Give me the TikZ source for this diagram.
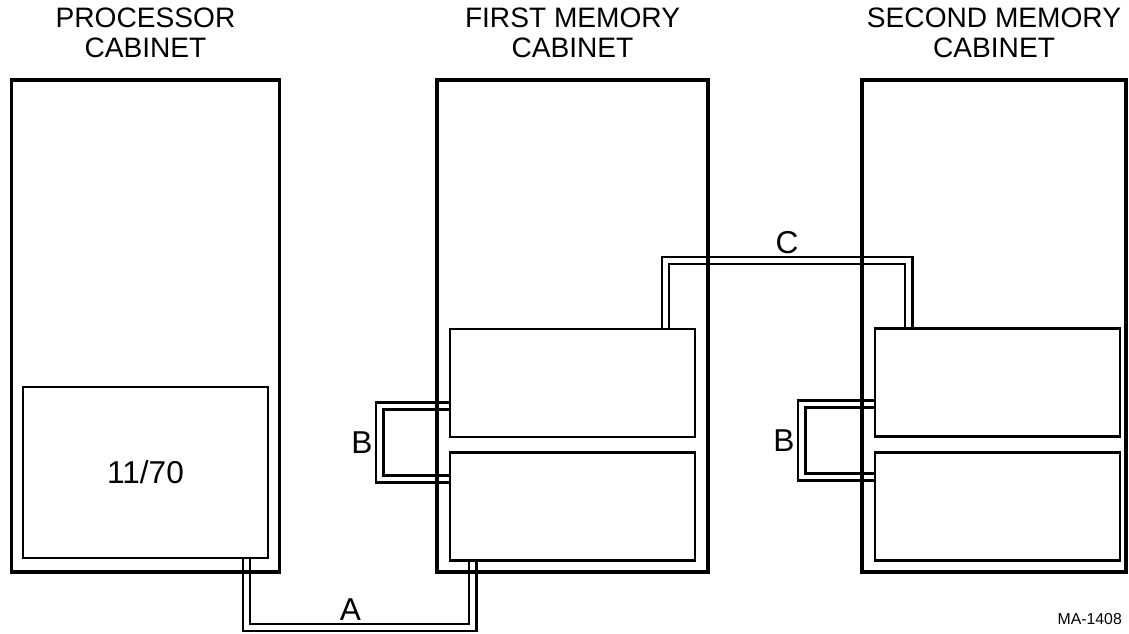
\documentclass[tikz,border=0pt]{standalone}
\usepackage{fontspec}
\setmainfont{Liberation Sans}
\usetikzlibrary{positioning, backgrounds}

\begin{document}
\begin{tikzpicture}[x=0.02cm, y=-0.02cm, node distance=0.26cm,
    cabinet/.style={draw, rectangle, line width=1.8pt, minimum width=5.36cm, minimum height=9.84cm},
    unit/.style={draw, rectangle, line width=1.6pt, minimum width=4.9cm, minimum height=2.16cm},
    cable/.style={double, double distance=0.09cm, line width=1.5pt},
    title/.style={align=center, inner sep=0pt, font=\fontsize{16}{17}\selectfont},
    tag/.style={font=\fontsize{18}{20}\selectfont}]
      \useasboundingbox (0,0) rectangle (1129,633);

      % Cabinets
      \node [cabinet] (cpucab) at (145.5,326) {};
      \node [cabinet, minimum width=5.42cm] (mem1cab) at (572.5,326) {};
      \node [cabinet, minimum width=5.28cm] (mem2cab) at (994,326) {};

      % Titles
      \node [title, above=0.4cm of cpucab] (cputitle) {PROCESSOR\\CABINET};
      \node [title, above=0.4cm of mem1cab] (mem1title) {FIRST MEMORY\\CABINET};
      \node [title, above=0.4cm of mem2cab] (mem2title) {SECOND MEMORY\\CABINET};

      % Units inside the cabinets
      \node [unit, tag, minimum height=3.42cm] (cpu) at (145.5,472.5) {11/70};
      \node [unit] (mem1a) at (572.5,383) {};
      \node [unit, below=of mem1a] (mem1b) {};
      \node [unit] (mem2a) at (997.5,382.5) {};
      \node [unit, below=of mem2a] (mem2b) {};

      % Cables
      \begin{scope}[on background layer]
        \draw [cable] ([xshift=-0.46cm]cpu.south east) -- ++(0,68) -| node [tag, above, pos=0.23] (lblA) {A} ([xshift=0.48cm]mem1b.south west);
        \draw [cable] ([yshift=-0.46cm]mem1a.west) -- ++(-69,0) |- node [tag, left, pos=0.25] (lblB1) {B} ([yshift=0.56cm]mem1b.west);
        \draw [cable] ([yshift=-0.43cm]mem2a.west) -- ++(-72,0) |- node [tag, left, pos=0.25] (lblB2) {B} ([yshift=0.59cm]mem2b.west);
        \draw [cable] ([xshift=-0.62cm]mem1a.north east) -- ++(0,-67) -| node [tag, above, pos=0.25] (lblC) {C} ([xshift=0.7cm]mem2a.north west);
      \end{scope}

      \node [anchor=east, font=\fontsize{9}{10}\selectfont] (figno) at (1128,619) {MA-1408};
\end{tikzpicture}
\end{document}
